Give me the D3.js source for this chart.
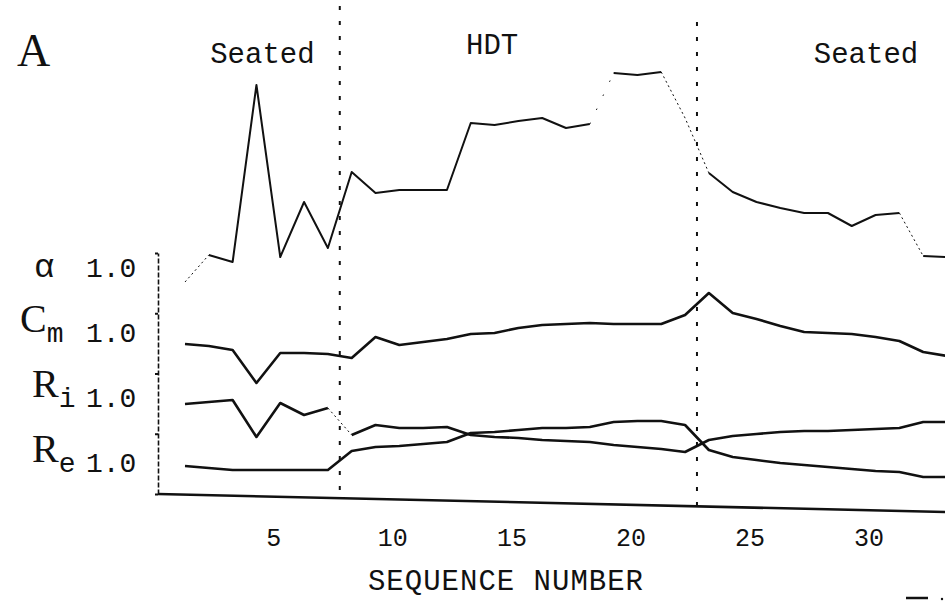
<!DOCTYPE html>
<html>
<head>
<meta charset="utf-8">
<script src="https://d3js.org/d3.v7.min.js"></script>
<style>
  body { margin: 0; background: #fff; }
  text { fill: #111; }
</style>
</head>
<body>
<div id="chart"></div>
<script>
// Sequence numbers and parameter values, each normalised so that 1.0 is its reference level
var seqNumbers = d3.range(1, 34);

var alphaValues = [0.94, 1.075, 1.04, 1.925, 1.065, 1.34, 1.11, 1.49, 1.385, 1.40, 1.40,
    1.40, 1.735, 1.725, 1.745, 1.76, 1.71, 1.73, 1.985, 1.975, 1.99, 1.76, 1.485,
    1.39, 1.34, 1.31, 1.285, 1.285, 1.22, 1.275, 1.285, 1.07, 1.065];

var cmValues = [0.955, 0.945, 0.925, 0.76, 0.91, 0.91, 0.905, 0.885, 0.99, 0.95, 0.965,
    0.98, 1.005, 1.01, 1.035, 1.05, 1.055, 1.06, 1.055, 1.055, 1.055, 1.10, 1.21,
    1.11, 1.08, 1.045, 1.015, 1.01, 1.005, 0.99, 0.97, 0.915, 0.895];

var riValues = [0.98, 0.99, 1.0, 0.815, 0.985, 0.925, 0.96, 0.825, 0.875, 0.86, 0.86,
    0.865, 0.825, 0.815, 0.81, 0.80, 0.795, 0.79, 0.775, 0.765, 0.755, 0.74, 0.80,
    0.82, 0.83, 0.84, 0.845, 0.845, 0.85, 0.855, 0.86, 0.89, 0.89];

var reValues = [0.995, 0.985, 0.975, 0.975, 0.975, 0.975, 0.975, 1.07, 1.09, 1.095, 1.105,
    1.115, 1.16, 1.165, 1.175, 1.185, 1.185, 1.19, 1.215, 1.22, 1.22, 1.20, 1.075,
    1.04, 1.025, 1.01, 1.0, 0.99, 0.98, 0.97, 0.965, 0.94, 0.94];

// segments that are only faintly printed (sequence number where the segment starts)
var alphaFaint = [1, 21, 22, 31];
var alphaGap = [18];
var riFaint = [7];

var paramNames = ["α", "C", "R", "R"];
var paramSubs = ["", "m", "i", "e"];
var xTicks = [5, 10, 15, 20, 25, 30];
var phaseBreaks = [7.5, 22.5];
var phaseNames = ["Seated", "HDT", "Seated"];
var phaseCentres = [4.25, 13.9, 29.6];

var width = 945,
    height = 614;

var svg = d3.select("#chart")
    .append("svg")
    .attr("width", width)
    .attr("height", height);

var mono = "'Liberation Mono', 'DejaVu Sans Mono', monospace";
var serif = "'Liberation Serif', 'DejaVu Serif', serif";

// x scale: one step per sequence number
var x = d3.scaleLinear()
    .domain([1, 33])
    .range([185, 947]);

// the four traces are stacked, each with its own 1.0 level
var base = d3.scaleLinear()
    .domain([0, 3])
    .range([270, 465]);

var series = [
    { values: alphaValues, faint: alphaFaint, gap: alphaGap, width: 2 },
    { values: cmValues, faint: [], gap: [], width: 2.6 },
    { values: riValues, faint: riFaint, gap: [], width: 2.6 },
    { values: reValues, faint: [], gap: [], width: 2.6 }
];

// phase separators (dashed verticals)
svg.append("g")
    .selectAll("line")
    .data(phaseBreaks)
    .enter()
    .append("line")
    .attr("x1", d => x(d))
    .attr("x2", d => x(d))
    .attr("y1", (d, i) => i == 0 ? 6 : 22)
    .attr("y2", (d, i) => i == 0 ? 492 : 506)
    .attr("stroke", "#111")
    .attr("stroke-width", 2)
    .attr("stroke-dasharray", "4,11");

// phase labels
svg.append("g")
    .selectAll("text")
    .data(phaseNames)
    .enter()
    .append("text")
    .attr("x", (d, i) => x(phaseCentres[i]))
    .attr("y", (d, i) => i == 1 ? 54 : 63)
    .attr("text-anchor", "middle")
    .style("font-family", mono)
    .style("font-size", "29px")
    .text(d => d);

// panel letter
svg.append("text")
    .attr("x", 17)
    .attr("y", 66)
    .style("font-family", serif)
    .style("font-size", "46px")
    .text("A");

// left axis (dashed, small ticks)
var yFrame = d3.scaleLinear()
    .domain([0, 4])
    .range([494, 253]);

var yAxis = svg.append("g")
    .attr("transform", "translate(158,0)")
    .call(d3.axisLeft(yFrame).ticks(4).tickSize(3).tickSizeOuter(0).tickFormat(""));
yAxis.select(".domain")
    .attr("stroke", "#111")
    .attr("stroke-width", 1.6)
    .attr("stroke-dasharray", "5,2");
yAxis.selectAll(".tick line")
    .attr("stroke", "#111")
    .attr("stroke-width", 2);

// bottom axis
var xAxis = svg.append("g")
    .attr("transform", "translate(0,494)")
    .call(d3.axisBottom(x).tickValues(xTicks).tickSize(0));
xAxis.select(".domain").remove();
xAxis.selectAll("text")
    .attr("y", 52)
    .attr("dy", 0)
    .attr("dx", -7)
    .attr("fill", "#111")
    .style("font-family", mono)
    .style("font-size", "25px");

// the base line is printed with a slight tilt
svg.append("line")
    .attr("x1", 158)
    .attr("y1", 494)
    .attr("x2", 945)
    .attr("y2", 512)
    .attr("stroke", "#111")
    .attr("stroke-width", 2.6);

svg.append("text")
    .attr("x", 506)
    .attr("y", 590)
    .attr("text-anchor", "middle")
    .style("font-family", mono)
    .style("font-size", "29px")
    .style("letter-spacing", "1px")
    .text("SEQUENCE NUMBER");

// trace labels: symbol, subscript and the 1.0 level
var labels = svg.append("g")
    .selectAll("g")
    .data(paramNames)
    .enter()
    .append("g");

labels.append("text")
    .attr("x", (d, i) => i == 0 ? 34 : (i == 1 ? 20 : 32))
    .attr("y", (d, i) => base(i) + (i == 0 ? 7 : -3))
    .style("font-family", (d, i) => i == 0 ? mono : serif)
    .style("font-size", (d, i) => i == 0 ? "34px" : "40px")
    .text(d => d)
    .append("tspan")
    .attr("dy", 10)
    .style("font-family", mono)
    .style("font-size", "28px")
    .text((d, i) => paramSubs[i]);

labels.append("text")
    .attr("x", 86)
    .attr("y", (d, i) => base(i) + 7)
    .style("font-family", mono)
    .style("font-size", "28px")
    .text("1.0");

// split a trace into runs of solid / faint / missing segments
function runs(values, faint, gap) {
    var out = [], cur = null;
    for (var i = 0; i < values.length - 1; i++) {
        var kind = gap.indexOf(seqNumbers[i]) >= 0 ? "gap"
            : (faint.indexOf(seqNumbers[i]) >= 0 ? "faint" : "solid");
        if (!cur || cur.kind !== kind) {
            cur = { kind: kind, idx: [i] };
            out.push(cur);
        }
        cur.idx.push(i + 1);
    }
    return out;
}

series.forEach(function(s, k) {
    var y = d3.scaleLinear()
        .domain([1, 2])
        .range([base(k), base(k) - 200]);
    var line = d3.line()
        .x(i => x(seqNumbers[i]))
        .y(i => y(s.values[i]));

    svg.append("g")
        .selectAll("path")
        .data(runs(s.values, s.faint, s.gap))
        .enter()
        .append("path")
        .attr("d", r => line(r.idx))
        .attr("fill", "none")
        .attr("stroke", "#111")
        .attr("stroke-width", r => r.kind == "solid" ? s.width : 1)
        .attr("stroke-dasharray", r => r.kind == "faint" ? "2,3" : (r.kind == "gap" ? "1.5,14" : null))
        .attr("stroke-linejoin", "round");
});

// small printing marks at the lower right
svg.append("line")
    .attr("x1", 906)
    .attr("y1", 598)
    .attr("x2", 928)
    .attr("y2", 598)
    .attr("stroke", "#111")
    .attr("stroke-width", 2.5);
svg.append("circle")
    .attr("cx", 942)
    .attr("cy", 599)
    .attr("r", 1.2)
    .attr("fill", "#111");
</script>
</body>
</html>
